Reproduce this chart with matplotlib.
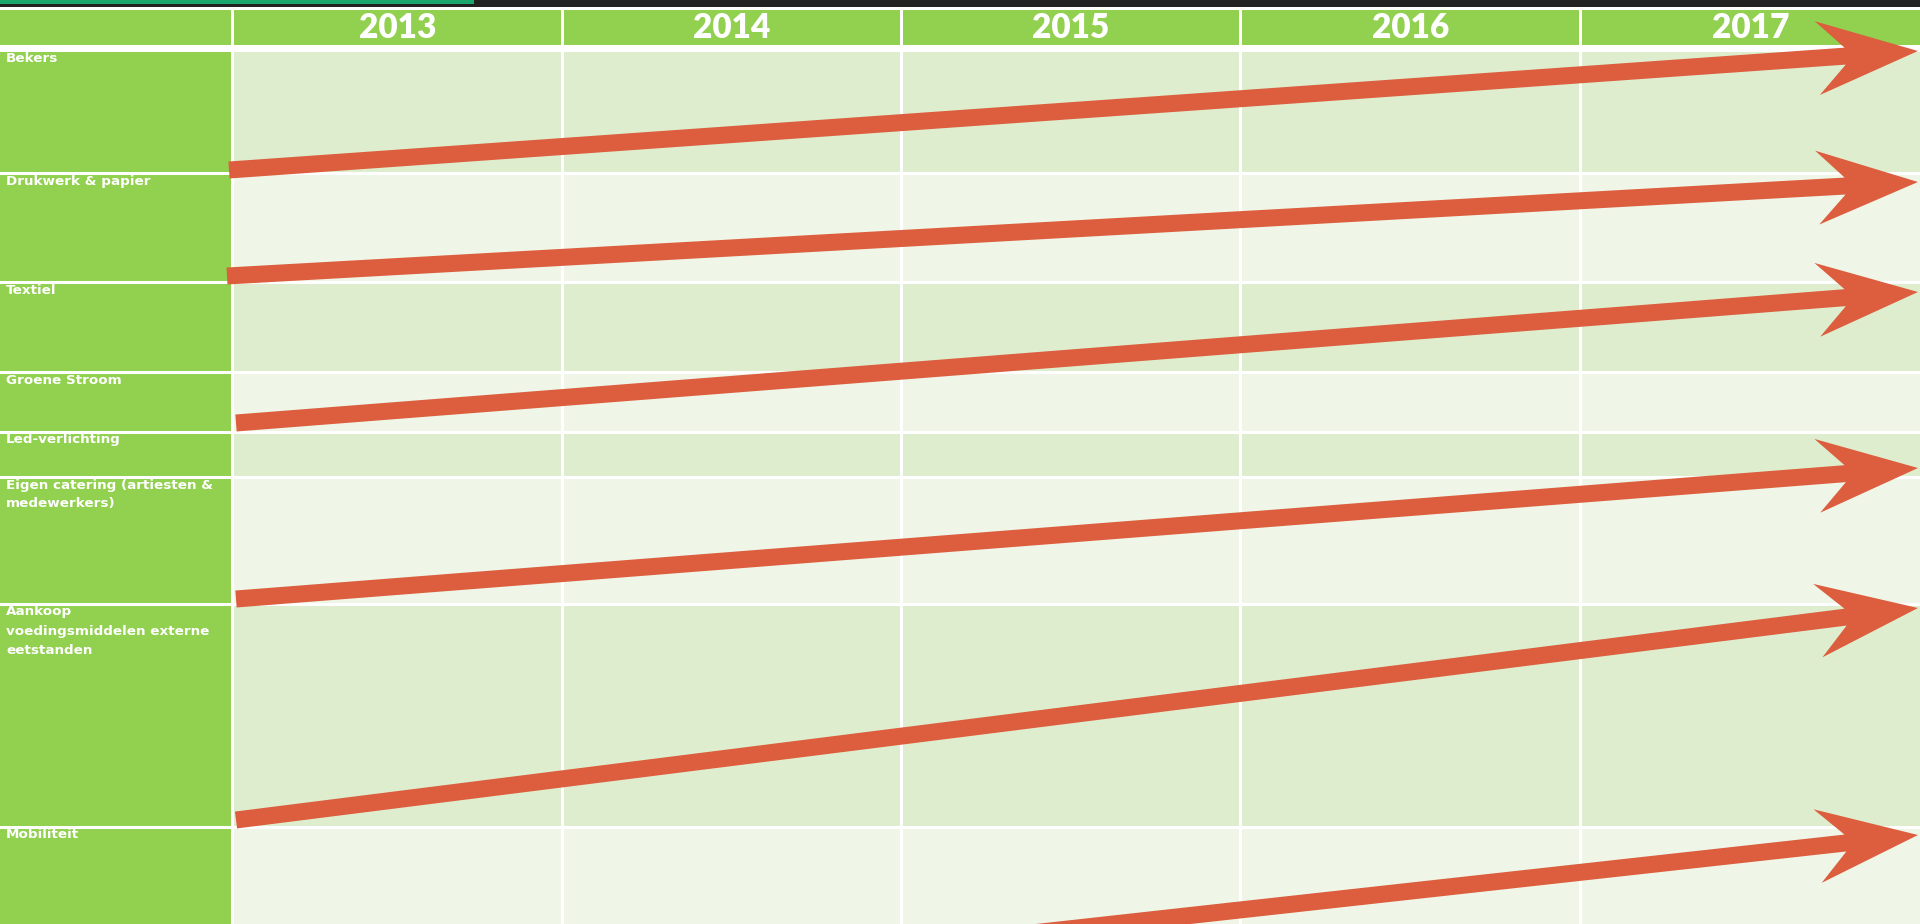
"""Sustainability roadmap 2013-2017: category rows with upward trend arrows."""

import matplotlib

matplotlib.use("Agg")
import matplotlib.pyplot as plt
from matplotlib.patches import Polygon, Rectangle
import numpy as np

# ---------------------------------------------------------------------------
# Data
# ---------------------------------------------------------------------------
years = [2013, 2014, 2015, 2016, 2017]
categories = [
    "Bekers",
    "Drukwerk & papier",
    "Textiel",
    "Groene Stroom",
    "Led-verlichting",
    "Eigen catering (artiesten &\nmedewerkers)",
    "Aankoop\nvoedingsmiddelen externe\neetstanden",
    "Mobiliteit",
]

# Trend arrows (start -> tip) in pixel space.
arrow_x0 = [229, 227, 236, 236, 236, 236]
arrow_y0 = [170, 276, 423, 599, 820, 1021]
arrow_x1 = [1918, 1918, 1918, 1918, 1918, 1918]
arrow_y1 = [51, 182, 292, 468, 608, 835]

# ---------------------------------------------------------------------------
# Layout / style
# ---------------------------------------------------------------------------
W, H = 1920, 924
col_x0 = [0, 234, 564, 903, 1242, 1582]
col_x1 = [231, 561, 900, 1239, 1579, 1920]
header_y = (9.5, 45)
row_y0 = [52, 175, 284, 374, 434, 479, 606, 829]
row_y1 = [172, 281, 371, 431, 476, 603, 826, 924]

GREEN = "#92d050"
ROW_DARK = "#dfedcf"
ROW_LIGHT = "#eff5e7"
ARROW = "#dc5e3e"
TEAL = "#1aa66c"
DARK = "#222222"
YEAR_FONT = ["Lato", "DejaVu Sans"]
LABEL_FONT = ["DejaVu Sans"]


def arrow_polygon(x0, y0, x1, y1, w=8.5, head_len=101.0, barb=37.0, neck=73.0):
    """Notched (stealth) arrow as polygon vertices in pixel units."""
    d = np.array([x1 - x0, y1 - y0], dtype=float)
    length = np.hypot(*d)
    u = d / length
    n = np.array([-u[1], u[0]])
    p0 = np.array([x0, y0], dtype=float)
    local = [
        (0, -w),
        (length - neck, -w),
        (length - head_len, -barb),
        (length, 0),
        (length - head_len, barb),
        (length - neck, w),
        (0, w),
    ]
    return [p0 + a * u + b * n for a, b in local]


fig = plt.figure(figsize=(W / 100, H / 100), dpi=100)
ax = fig.add_axes([0, 0, 1, 1])
ax.set_xlim(0, W)
ax.set_ylim(H, 0)
ax.axis("off")
fig.patch.set_facecolor("white")

# top strip
ax.add_patch(Rectangle((0, 0), W, 6.7, color=DARK, lw=0))
ax.add_patch(Rectangle((0, 0), 474, 3.7, color=TEAL, lw=0))

# header row
for ci, (x0, x1) in enumerate(zip(col_x0, col_x1)):
    ax.add_patch(Rectangle((x0, header_y[0]), x1 - x0, header_y[1] - header_y[0],
                           color=GREEN, lw=0))
    if ci > 0:
        ax.text((x0 + x1) / 2, (header_y[0] + header_y[1]) / 2 + 0.5, str(years[ci - 1]),
                color="white", fontsize=24, fontweight="heavy", family=YEAR_FONT,
                ha="center", va="center")

# body rows
for ri, label in enumerate(categories):
    y0, y1 = row_y0[ri], row_y1[ri]
    fill = ROW_DARK if ri % 2 == 0 else ROW_LIGHT
    for ci, (x0, x1) in enumerate(zip(col_x0, col_x1)):
        ax.add_patch(Rectangle((x0, y0), x1 - x0, y1 - y0,
                               color=GREEN if ci == 0 else fill, lw=0))
    ax.text(6, y0 - 0.5, label, color="white", fontsize=9.7, fontweight="bold",
            family=LABEL_FONT, ha="left", va="top", linespacing=1.6)

# arrows
for x0, y0, x1, y1 in zip(arrow_x0, arrow_y0, arrow_x1, arrow_y1):
    ax.add_patch(Polygon(arrow_polygon(x0, y0, x1, y1), closed=True,
                         facecolor=ARROW, edgecolor="none", zorder=5))

fig.savefig("out.png", dpi=100)
